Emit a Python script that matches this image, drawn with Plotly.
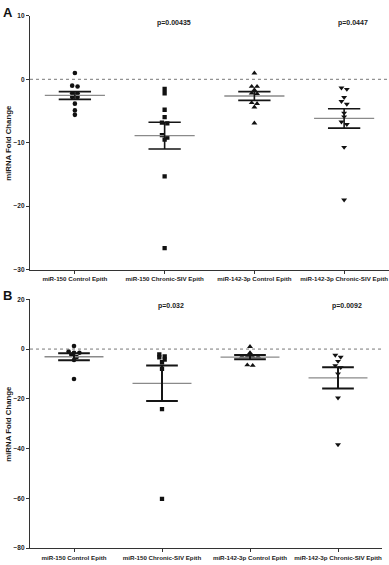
import numpy as np
import plotly.graph_objects as go

# ---------------- data ----------------
categories = ["miR-150 Control Epith", "miR-150 Chronic-SIV Epith",
              "miR-142-3p Control Epith", "miR-142-3p Chronic-SIV Epith"]

a_150_control = [1.0, -1.0, -1.14, -2.2, -2.2, -2.8, -2.8, -3.84, -4.9, -5.6]
a_150_chronic = [-1.5, -2.2, -4.8, -5.96, -6.84, -6.95, -8.8, -9.17, -9.5, -15.3, -26.6]
a_142_control = [0.98, -1.14, -1.14, -1.66, -2.2, -2.28, -3.7, -3.84, -4.4, -6.9]
a_142_chronic = [-1.35, -1.56, -2.85, -3.47, -3.9, -5.3, -5.9, -6.7, -7.1, -10.7, -19.0]

b_150_control = [1.2, -0.95, -1.5, -1.5, -2.3, -3.2, -4.4, -12.0]
b_150_chronic = [-2.1, -2.9, -3.3, -4.2, -5.3, -7.9, -24.1, -60.2]
b_142_control = [1.0, -1.5, -3.0, -3.1, -3.1, -3.0, -6.6, -6.4]
b_142_chronic = [-2.4, -3.2, -4.9, -6.6, -7.4, -9.9, -19.6, -38.4]

a_pvalues = ["", "p=0.00435", "", "p=0.0447"]
b_pvalues = ["", "p=0.032", "", "p=0.0092"]

a_yticks = [-30, -20, -10, 0, 10]
b_yticks = [-80, -60, -40, -20, 0, 20]

# ---------------- layout constants ----------------
W, H = 389, 565
FONT = "Liberation Sans, Arial, sans-serif"
TXT = "#1a1a1a"
symbols = ["circle", "square", "triangle-up", "triangle-down"]
msizes = [4.6, 4.3, 5.2, 5.2]

panels = [
    dict(groups=[a_150_control, a_150_chronic, a_142_control, a_142_chronic],
         pv=a_pvalues, ticks=a_yticks, yr=[-30, 10],
         xdom=[30 / W, 1.0], ydom=[1 - 269 / H, 1 - 12 / H], letter="A",
         mean_w=1.3, sem_w=1.6),
    dict(groups=[b_150_control, b_150_chronic, b_142_control, b_142_chronic],
         pv=b_pvalues, ticks=b_yticks, yr=[-80, 20],
         xdom=[30 / W, 382 / W], ydom=[1 - 551 / H, 1 - 299 / H], letter="B",
         mean_w=1.3, sem_w=2.0),
]


def swarm(vals, px_per_unit, px_per_cat, spacing_px=5.4, thr_px=3.0):
    """simple row-based beeswarm offsets (in category units)"""
    order = np.argsort(vals)[::-1]
    offs = np.zeros(len(vals))
    rows, cur = [], []
    for i in order:
        if cur and abs(vals[cur[0]] - vals[i]) * px_per_unit > thr_px:
            rows.append(cur)
            cur = []
        cur.append(i)
    if cur:
        rows.append(cur)
    for r in rows:
        n = len(r)
        for k, i in enumerate(r):
            offs[i] = (k - (n - 1) / 2) * spacing_px / px_per_cat
    return offs


fig = go.Figure()
layout = dict(width=W, height=H, margin=dict(l=0, r=0, t=0, b=0),
              paper_bgcolor="white", plot_bgcolor="white", showlegend=False,
              shapes=[], annotations=[])

for pi, p in enumerate(panels):
    sfx = "" if pi == 0 else str(pi + 1)
    xa, ya = "x" + sfx, "y" + sfx
    hpx = (p["ydom"][1] - p["ydom"][0]) * H
    wpx = (p["xdom"][1] - p["xdom"][0]) * W
    ppu = hpx / (p["yr"][1] - p["yr"][0])
    ppc = wpx / 4.0
    for gi, vals in enumerate(p["groups"]):
        v = np.array(vals, dtype=float)
        offs = swarm(v, ppu, ppc)
        fig.add_trace(go.Scatter(x=gi + offs, y=v, mode="markers", xaxis=xa, yaxis=ya,
                                 marker=dict(symbol=symbols[gi], size=msizes[gi], color="#111",
                                             line=dict(width=0)), hoverinfo="skip"))
        m = v.mean()
        sem = v.std(ddof=1) / np.sqrt(len(v))
        # mean line (gray)
        fig.add_trace(go.Scatter(x=[gi - 0.335, gi + 0.335], y=[m, m], mode="lines",
                                 xaxis=xa, yaxis=ya, line=dict(color="#8a8a8a", width=p["mean_w"]),
                                 hoverinfo="skip"))
        # SEM whiskers (black)
        fig.add_trace(go.Scatter(x=[gi - 0.18, gi + 0.18, None, gi - 0.18, gi + 0.18, None, gi, gi],
                                 y=[m + sem, m + sem, None, m - sem, m - sem, None, m + sem, m - sem],
                                 mode="lines", xaxis=xa, yaxis=ya,
                                 line=dict(color="#151515", width=p["sem_w"]), hoverinfo="skip"))
        if p["pv"][gi]:
            layout["annotations"].append(dict(
                x=gi + 0.1, y=1.0, xref=xa, yref=ya + " domain", yanchor="top",
                xanchor="center",
                text=p["pv"][gi], showarrow=False, yshift=-1,
                font=dict(family=FONT, size=7, color=TXT, weight="bold")))

    layout["xaxis" + sfx] = dict(
        domain=p["xdom"], anchor=ya, range=[-0.5, 3.5], tickmode="array",
        tickvals=[0, 1, 2, 3], ticktext=categories, showline=True, linecolor="#333",
        linewidth=1.3, ticks="outside", ticklen=3, tickwidth=1, tickcolor="#333",
        showgrid=False, zeroline=False,
        tickfont=dict(family=FONT, size=6.2, color=TXT, weight="bold"))
    layout["yaxis" + sfx] = dict(
        domain=p["ydom"], anchor=xa, range=p["yr"], tickmode="array",
        tickvals=p["ticks"], showline=True, linecolor="#333", linewidth=1.3,
        ticks="outside", ticklen=3, tickwidth=1, tickcolor="#333",
        showgrid=False, zeroline=False,
        tickfont=dict(family=FONT, size=6.5, color=TXT, weight="bold"))
    # dotted zero line
    layout["shapes"].append(dict(type="line", xref=xa + " domain", yref=ya, x0=0, x1=1,
                                 y0=0, y1=0, line=dict(color="#777", width=1, dash="dot")))
    # y title
    layout["annotations"].append(dict(
        x=9 / W, y=(p["ydom"][0] + p["ydom"][1]) / 2, xref="paper", yref="paper",
        xanchor="center", yanchor="middle",
        text="miRNA Fold Change", textangle=-90, showarrow=False,
        font=dict(family=FONT, size=7.8, color=TXT, weight="bold")))
    # panel letter
    layout["annotations"].append(dict(
        x=1 / W, y=p["ydom"][1] + 13 / H, xref="paper", yref="paper", xanchor="left",
        yanchor="top", text=p["letter"], showarrow=False,
        font=dict(family=FONT, size=13, color="#111", weight="bold")))

fig.update_layout(**layout)
fig.write_html("out.html")
